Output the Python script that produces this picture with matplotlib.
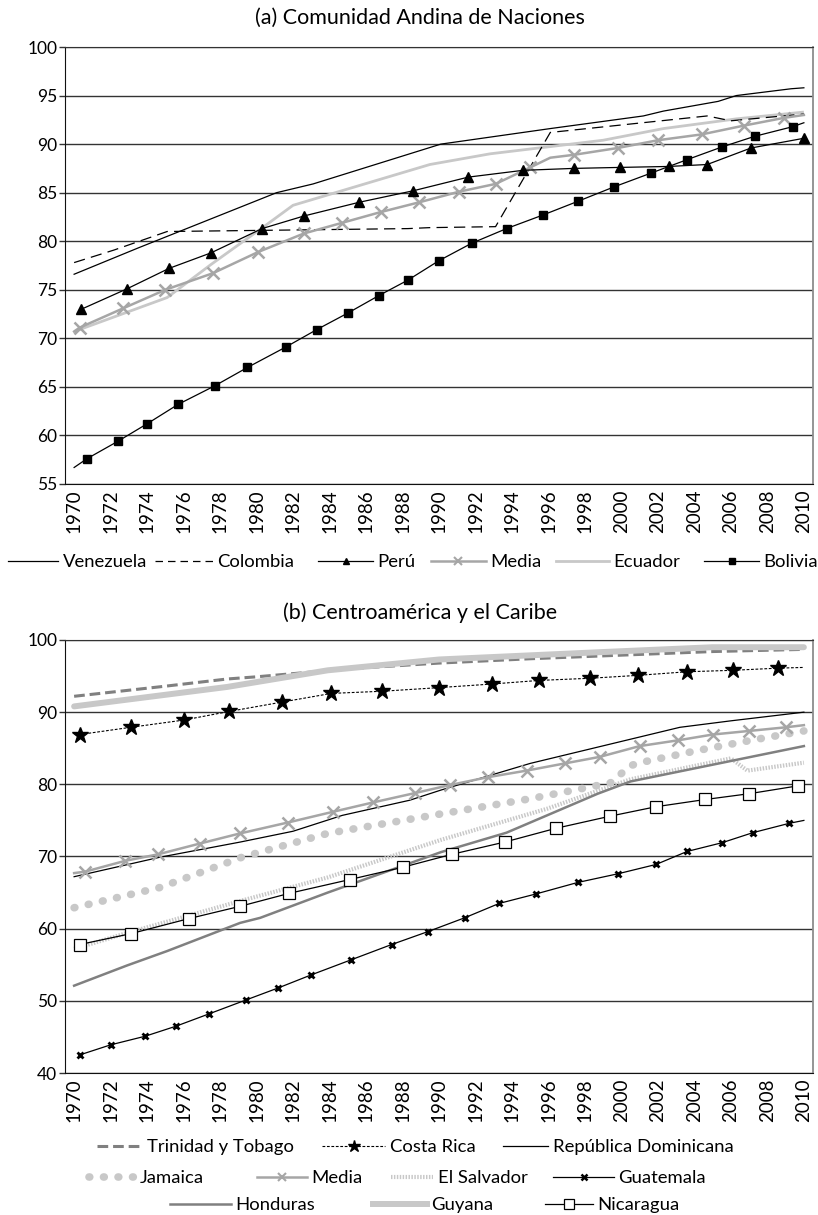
import matplotlib
matplotlib.use("Agg")
import matplotlib.pyplot as plt
from matplotlib.lines import Line2D

plt.rcParams['font.family'] = ['Lato', 'DejaVu Sans']

W, H = 818, 1215

# ---------------- (a) Comunidad Andina de Naciones ----------------
ven_years = [1970, 1973.5, 1981.1, 1983.1, 1990.1, 1996.1, 2001.2, 2002.3, 2005.3, 2006.3, 2009.3, 2010]
ven_vals = [76.6, 79.3, 85.0, 85.9, 90.0, 91.6, 92.9, 93.4, 94.4, 95.0, 95.7, 95.8]

col_years = [1970, 1972.2, 1975.1, 1988.3, 1989.5, 1993.1, 1996.1, 2004.7, 2006.0, 2010]
col_vals = [77.8, 79.1, 81.0, 81.3, 81.4, 81.5, 91.2, 92.9, 92.4, 93.1]

per_years = [1970.4, 1972.9, 1975.2, 1977.5, 1980.3, 1982.6, 1985.6, 1988.6, 1991.6, 1994.6,
             1997.4, 1999.9, 2002.6, 2004.7, 2007.1, 2010.0]
per_vals = [73.0, 75.1, 77.2, 78.8, 81.3, 82.6, 84.0, 85.2, 86.6, 87.3,
            87.5, 87.6, 87.7, 87.9, 89.6, 90.6]

meda_years = [1970, 1970.3, 1972.7, 1975.0, 1977.6, 1980.1, 1982.6, 1984.7, 1986.8, 1988.9, 1991.1,
              1993.1, 1995.0, 1996.1, 1997.4, 1999.8, 2002.0, 2004.4, 2006.7, 2008.9, 2010]
meda_vals = [70.7, 71.1, 73.1, 75.0, 76.7, 78.9, 80.8, 81.9, 83.0, 84.0, 85.1,
             85.9, 87.6, 88.6, 88.9, 89.6, 90.4, 91.0, 91.9, 92.7, 93.0]
meda_marks = [1, 2, 3, 4, 5, 6, 7, 8, 9, 10, 11, 12, 14, 15, 16, 17, 18, 19]

ecu_years = [1970, 1975.1, 1977.5, 1980.4, 1982.0, 1989.5, 1992.8, 1999.0, 2002.3, 2006.3, 2010]
ecu_vals = [70.7, 74.2, 77.6, 81.5, 83.7, 87.9, 89.0, 90.4, 91.6, 92.6, 93.3]

bol_years = [1970, 1970.7, 1972.4, 1974.0, 1975.7, 1977.7, 1979.5, 1981.6, 1983.3, 1985.0, 1986.7,
             1988.3, 1990.0, 1991.8, 1993.7, 1995.7, 1997.6, 1999.6, 2001.6, 2003.6, 2005.5,
             2007.3, 2009.4, 2010]
bol_vals = [56.7, 57.6, 59.4, 61.2, 63.2, 65.1, 67.0, 69.1, 70.9, 72.6, 74.4,
            76.0, 78.0, 79.8, 81.3, 82.7, 84.1, 85.6, 87.0, 88.4, 89.7,
            90.8, 91.8, 92.2]

# ---------------- (b) Centroamérica y el Caribe ----------------
tt_years = [1970, 1975, 1978.4, 1980, 1985, 1990, 1995, 2000, 2005, 2010]
tt_vals = [92.2, 93.6, 94.6, 94.9, 96.0, 96.8, 97.4, 97.9, 98.4, 98.7]

cr_years = [1970.3, 1973.1, 1976.0, 1978.5, 1981.4, 1984.1, 1986.9, 1990.0, 1992.9, 1995.5,
            1998.3, 2000.9, 2003.6, 2006.1, 2008.6, 2010]
cr_vals = [86.9, 87.9, 88.9, 90.1, 91.4, 92.6, 92.9, 93.4, 93.9, 94.4,
           94.7, 95.1, 95.6, 95.8, 96.1, 96.2]

rd_years = [1970, 1974.7, 1979.1, 1982.0, 1984.7, 1988.4, 1990.1, 1995.0, 2003.2, 2006, 2010]
rd_vals = [67.2, 69.9, 72.0, 73.5, 75.7, 77.8, 79.2, 82.9, 87.9, 88.8, 90.0]

jam_years = [1970, 1974.7, 1979.2, 1983.9, 1990.1, 1995, 1999.4, 2000.5, 2001.2, 2004.2, 2007.1, 2010]
jam_vals = [62.9, 65.7, 69.9, 73.2, 75.9, 78.0, 80.2, 82.6, 83.1, 84.7, 86.1, 87.4]

medb_years = [1970, 1970.6, 1972.8, 1974.6, 1976.9, 1979.1, 1981.7, 1984.2, 1986.4, 1988.7, 1990.6,
              1992.7, 1994.8, 1996.9, 1998.8, 2001.0, 2003.1, 2005.0, 2007.0, 2009.0, 2010]
medb_vals = [67.7, 67.9, 69.4, 70.3, 71.8, 73.2, 74.7, 76.2, 77.5, 78.8, 79.9,
             81.0, 81.9, 82.9, 83.8, 85.3, 86.1, 86.9, 87.4, 87.9, 88.2]

sal_years = [1970, 1972.9, 1979.2, 1983.9, 1990.1, 1995.9, 2000.5, 2006.0, 2006.9, 2010]
sal_vals = [57.2, 59.4, 63.9, 67.1, 72.3, 76.6, 80.7, 83.6, 81.9, 83.0]

gua_years = [1970.3, 1972.0, 1973.9, 1975.6, 1977.4, 1979.4, 1981.2, 1983.0, 1985.2, 1987.4,
             1989.4, 1991.4, 1993.3, 1995.3, 1997.6, 1999.8, 2001.9, 2003.6, 2005.5, 2007.2,
             2009.2, 2010]
gua_vals = [42.5, 43.9, 45.1, 46.5, 48.2, 50.1, 51.8, 53.6, 55.7, 57.8,
            59.6, 61.5, 63.5, 64.8, 66.4, 67.6, 68.9, 70.7, 71.9, 73.3,
            74.6, 75.0]

hon_years = [1970, 1972.9, 1975.1, 1979.1, 1980.2, 1983.9, 1990.1, 1993.7, 1998.7, 2000.5, 2010]
hon_vals = [52.1, 54.9, 56.9, 60.8, 61.5, 65.0, 70.6, 73.3, 78.7, 80.4, 85.3]

guy_years = [1970, 1978.4, 1983.9, 1990, 1998.7, 2005, 2010]
guy_vals = [90.8, 93.5, 95.8, 97.3, 98.3, 99.0, 99.0]

nic_years = [1970.3, 1973.1, 1976.3, 1979.1, 1981.8, 1985.1, 1988.0, 1990.7, 1993.6, 1996.4,
             1999.4, 2001.9, 2004.6, 2007.0, 2009.7, 2010]
nic_vals = [57.8, 59.3, 61.4, 63.1, 64.9, 66.8, 68.5, 70.3, 72.0, 73.9,
            75.6, 76.9, 77.9, 78.7, 79.8, 79.9]

tick_years = list(range(1970, 2011, 2))

BLACK = '#000000'
DARK = '#808080'
MID = '#a6a6a6'
LIGHT = '#c8c8c8'

fig = plt.figure(figsize=(W / 100, H / 100), dpi=100)


def px_axes(left, top, right, bottom):
    return fig.add_axes([left / W, 1 - bottom / H, (right - left) / W, (bottom - top) / H])


def style_axes(ax, ylim, ystep):
    ax.set_xlim(1969.5, 2010.5)
    ax.set_ylim(*ylim)
    ax.set_yticks(list(range(ylim[0], ylim[1] + 1, ystep)))
    ax.set_xticks(tick_years)
    ax.set_xticklabels([str(y) for y in tick_years], rotation=90, fontsize=13.5)
    ax.tick_params(axis='y', labelsize=12.5, length=4, width=1, pad=1.5, color='#333333')
    ax.tick_params(axis='x', length=0, pad=4)
    ax.yaxis.grid(True, color='#333333', lw=1.0)
    ax.xaxis.grid(False)
    ax.set_axisbelow(True)
    ax.spines['top'].set_color('#333333')
    ax.spines['right'].set_color('#8c8c8c')
    ax.spines['right'].set_linewidth(1.3)
    ax.spines['left'].set_color('#111111')
    ax.spines['bottom'].set_color('#111111')


def legend_entry(handle, label, x, y, hlen_px, fs=13.3):
    fs_px = fs * 100 / 72
    fig.legend(handles=[handle], labels=[label], loc='center left',
               bbox_to_anchor=(x / W, 1 - y / H), frameon=False, borderpad=0,
               borderaxespad=0, handlelength=hlen_px / fs_px, handletextpad=0.25,
               fontsize=fs, numpoints=1)


# ---------- top panel ----------
ax1 = px_axes(65, 47, 813, 484)
style_axes(ax1, (55, 100), 5)

ax1.plot(ecu_years, ecu_vals, color=LIGHT, lw=2.0, solid_capstyle='butt', zorder=2)
ax1.plot(ven_years, ven_vals, color=BLACK, lw=0.9, zorder=3)
ax1.plot(col_years, col_vals, color=BLACK, lw=0.9, dashes=(9, 5), zorder=3)
ax1.plot(per_years, per_vals, color=BLACK, lw=0.9, marker='^', ms=7, zorder=4)
ax1.plot(meda_years, meda_vals, color=MID, lw=1.8, marker='x', ms=8, mew=1.8,
         markevery=meda_marks, zorder=3)
ax1.plot(bol_years, bol_vals, color=BLACK, lw=0.9, marker='s', ms=5.5,
         markevery=list(range(1, len(bol_years) - 1)), zorder=4)

fig.text(420 / W, 1 - 18 / H, '(a) Comunidad Andina de Naciones', ha='center', va='center',
         fontsize=15.5)

ly = 562
legend_entry(Line2D([], [], color=BLACK, lw=0.9), 'Venezuela', 8, ly, 50)
legend_entry(Line2D([], [], color=BLACK, lw=0.9, dashes=(6, 4)), 'Colombia', 155, ly, 58)
legend_entry(Line2D([], [], color=BLACK, lw=0.9, marker='^', ms=5), 'Perú', 318, ly, 55)
legend_entry(Line2D([], [], color=MID, lw=1.8, marker='x', ms=6, mew=1.5), 'Media', 431, ly, 55)
legend_entry(Line2D([], [], color=LIGHT, lw=2.0), 'Ecuador', 556, ly, 53)
legend_entry(Line2D([], [], color=BLACK, lw=0.9, marker='s', ms=4), 'Bolivia', 704, ly, 55)

# ---------- bottom panel ----------
ax2 = px_axes(65, 640, 813, 1073)
style_axes(ax2, (40, 100), 10)

tt_style = dict(color=DARK, lw=2.2, dashes=(3.5, 1.6))
cr_style = dict(color=BLACK, lw=0.8, dashes=(2.5, 1.5))
jam_style = dict(color=LIGHT, lw=5.5, dashes=(0.1, 1.8), dash_capstyle='round')
sal_style = dict(color=LIGHT, lw=3.0, dashes=(0.35, 0.35), dash_capstyle='butt')

ax2.plot(tt_years, tt_vals, zorder=3, **tt_style)
ax2.plot(rd_years, rd_vals, color=BLACK, lw=0.9, zorder=3)
ax2.plot(jam_years, jam_vals, zorder=2, **jam_style)
ax2.plot(sal_years, sal_vals, zorder=2, **sal_style)
ax2.plot(medb_years, medb_vals, color=MID, lw=1.8, marker='x', ms=8, mew=1.8,
         markevery=list(range(1, len(medb_years) - 1)), zorder=3)
ax2.plot(hon_years, hon_vals, color=DARK, lw=1.8, zorder=3)
ax2.plot(guy_years, guy_vals, color=LIGHT, lw=4.3, solid_capstyle='round', zorder=3)
ax2.plot(cr_years, cr_vals, marker='*', ms=12, mfc=BLACK, mec=BLACK,
         markevery=list(range(0, len(cr_years) - 1)), zorder=4, **cr_style)
ax2.plot(gua_years, gua_vals, color=BLACK, lw=0.9, marker='x', ms=5, mew=2.0,
         markevery=list(range(0, len(gua_years) - 1)), zorder=4)
ax2.plot(nic_years, nic_vals, color=BLACK, lw=0.9, marker='s', ms=9, mfc='white',
         mec=BLACK, mew=0.9, markevery=list(range(0, len(nic_years) - 1)), zorder=5)

fig.text(420 / W, 1 - 613 / H, '(b) Centroamérica y el Caribe', ha='center', va='center',
         fontsize=15.5)

r1, r2, r3 = 1147, 1178, 1205
legend_entry(Line2D([], [], **tt_style), 'Trinidad y Tobago', 97, r1, 45)
legend_entry(Line2D([], [], marker='*', ms=9, mfc=BLACK, mec=BLACK, **cr_style), 'Costa Rica', 322, r1, 63)
legend_entry(Line2D([], [], color=BLACK, lw=0.9), 'República Dominicana', 503, r1, 45)
legend_entry(Line2D([], [], **jam_style), 'Jamaica', 89, r2, 46)
legend_entry(Line2D([], [], color=MID, lw=1.8, marker='x', ms=6, mew=1.5), 'Media', 257, r2, 50)
legend_entry(Line2D([], [], **sal_style), 'El Salvador', 391, r2, 42)
legend_entry(Line2D([], [], color=BLACK, lw=0.9, marker='x', ms=4, mew=1.8), 'Guatemala', 553, r2, 61)
legend_entry(Line2D([], [], color=DARK, lw=1.8), 'Honduras', 170, r3, 61)
legend_entry(Line2D([], [], color=LIGHT, lw=4.3), 'Guyana', 373, r3, 54)
legend_entry(Line2D([], [], color=BLACK, lw=0.9, marker='s', ms=7, mfc='white', mec=BLACK,
                    mew=0.9), 'Nicaragua', 545, r3, 48)

fig.savefig('out.png', dpi=100)
